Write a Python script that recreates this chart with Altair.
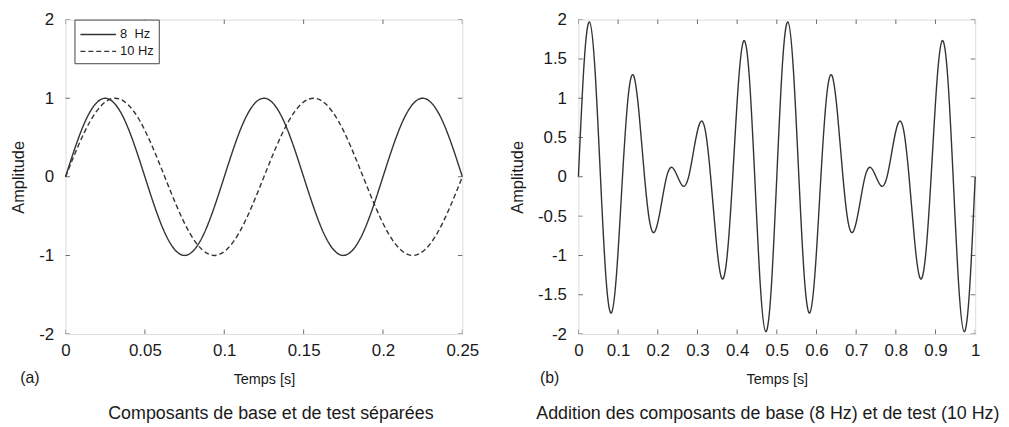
import altair as alt
import pandas as pd

FONT = "Liberation Sans"

# ---- panel (a) data ----
t_solid = [0, 0.0125, 0.025, 0.0375, 0.05, 0.0625, 0.075, 0.0875, 0.1, 0.1125, 0.125,
           0.1375, 0.15, 0.1625, 0.175, 0.1875, 0.2, 0.2125, 0.225, 0.2375, 0.25]
y_solid = [0, 0.71, 1, 0.71, 0, -0.71, -1, -0.71, 0, 0.71, 1,
           0.71, 0, -0.71, -1, -0.71, 0, 0.71, 1, 0.71, 0]
t_dash = [0, 0.0156, 0.03125, 0.0469, 0.0625, 0.0781, 0.09375, 0.1094, 0.125,
          0.1406, 0.15625, 0.1719, 0.1875, 0.2031, 0.21875, 0.2344, 0.25]
y_dash = [0, 0.71, 1, 0.71, 0, -0.71, -1, -0.71, 0,
          0.71, 1, 0.71, 0, -0.71, -1, -0.71, 0]
series_names = ["8 \u00a0Hz", "10 Hz"]

# ---- panel (b) data ----
t_sum = [0, 0.0139, 0.0278, 0.0417, 0.0556, 0.0694, 0.0833, 0.0972, 0.1111, 0.125,
         0.1389, 0.1528, 0.1667, 0.1806, 0.1944, 0.2083, 0.2222, 0.2361, 0.25, 0.2639,
         0.2778, 0.2917, 0.3056, 0.3194, 0.3333, 0.3472, 0.3611, 0.375, 0.3889, 0.4028,
         0.4167, 0.4306, 0.4444, 0.4583, 0.4722, 0.4861, 0.5, 0.5139, 0.5278, 0.5417,
         0.5556, 0.5694, 0.5833, 0.5972, 0.6111, 0.625, 0.6389, 0.6528, 0.6667, 0.6806,
         0.6944, 0.7083, 0.7222, 0.7361, 0.75, 0.7639, 0.7778, 0.7917, 0.8056, 0.8194,
         0.8333, 0.8472, 0.8611, 0.875, 0.8889, 0.9028, 0.9167, 0.9306, 0.9444, 0.9583,
         0.9722, 0.9861, 1.0]
y_sum = [0, 1.41, 1.97, 1.37, 0, -1.28, -1.73, -1.16, 0,
         1.0, 1.29, 0.81, 0, -0.60, -0.68, -0.37, 0,
         0.12, 0, -0.12, 0, 0.37, 0.68, 0.60, 0,
         -0.81, -1.29, -1.0, 0, 1.16, 1.73, 1.28, 0,
         -1.37, -1.97, -1.41, 0, 1.41, 1.97, 1.37, 0,
         -1.28, -1.73, -1.16, 0, 1.0, 1.29, 0.81, 0,
         -0.60, -0.68, -0.37, 0, 0.12, 0, -0.12, 0,
         0.37, 0.68, 0.60, 0, -0.81, -1.29, -1.0, 0,
         1.16, 1.73, 1.28, 0, -1.37, -1.97, -1.41, 0]

# ---- tick values ----
xticks_a = [0, 0.05, 0.1, 0.15, 0.2, 0.25]
yticks_a = [-2, -1, 0, 1, 2]
xticks_b = [0, 0.1, 0.2, 0.3, 0.4, 0.5, 0.6, 0.7, 0.8, 0.9, 1]
yticks_b = [-2, -1.5, -1, -0.5, 0, 0.5, 1, 1.5, 2]

W, H = 400, 317
LINE_COLOR = "#333333"
TEXT_COLOR = "#1a1a1a"

label_expr = "(datum.value < 0 ? '-' : '') + format(abs(datum.value), '~g')"


def x_axis(vals):
    return alt.Axis(values=vals, title="Temps [s]", labelExpr=label_expr, ticks=False,
                    domain=False, grid=False, labelFontSize=17, labelPadding=9,
                    titleFontSize=14.5, titleFontWeight="normal", titlePadding=14,
                    labelColor=TEXT_COLOR, titleColor=TEXT_COLOR, labelFont=FONT,
                    titleFont=FONT, labelFlush=False, labelOverlap=False)


def y_axis(vals):
    return alt.Axis(values=vals, title="Amplitude", labelExpr=label_expr, ticks=False,
                    domain=False, grid=False, labelFontSize=17, labelPadding=12,
                    titleFontSize=16.5, titleFontWeight="normal", titlePadding=12,
                    labelColor=TEXT_COLOR, titleColor=TEXT_COLOR, labelFont=FONT,
                    titleFont=FONT, labelOverlap=False)


def tick_layers(xvals, yvals, xmin, xmax, ymin, ymax, xax, yax):
    dx = pd.DataFrame({"tx": xvals})
    dy = pd.DataFrame({"ty": yvals})
    base_x = alt.Chart(dx).mark_tick(orient="vertical", size=9, thickness=1,
                                     color=LINE_COLOR, clip=True)
    base_y = alt.Chart(dy).mark_tick(orient="horizontal", size=9, thickness=1,
                                     color=LINE_COLOR, clip=True)
    return [
        base_x.encode(x=alt.X("tx:Q", axis=xax), y=alt.YDatum(ymin, axis=yax)),
        base_x.encode(x=alt.X("tx:Q", axis=xax), y=alt.YDatum(ymax, axis=yax)),
        base_y.encode(y=alt.Y("ty:Q", axis=yax), x=alt.XDatum(xmin, axis=xax)),
        base_y.encode(y=alt.Y("ty:Q", axis=yax), x=alt.XDatum(xmax, axis=xax)),
    ]


def panel_label(txt, dx):
    return alt.Chart(pd.DataFrame({"l": [txt]})).mark_text(
        font=FONT, fontSize=16, color=TEXT_COLOR, align="center", baseline="middle"
    ).encode(x=alt.value(dx), y=alt.value(H + 44), text="l:N")


# ---- panel (a) ----
xa, ya = x_axis(xticks_a), y_axis(yticks_a)
df_a = pd.DataFrame({
    "t": t_solid + t_dash,
    "y": y_solid + y_dash,
    "s": [series_names[0]] * len(t_solid) + [series_names[1]] * len(t_dash),
})

lines_a = alt.Chart(df_a).mark_line(
    interpolate="natural", strokeWidth=1.4, color=LINE_COLOR
).encode(
    x=alt.X("t:Q", scale=alt.Scale(domain=[0, 0.25], nice=False), axis=xa),
    y=alt.Y("y:Q", scale=alt.Scale(domain=[-2, 2], nice=False), axis=ya),
    detail="s:N",
    strokeDash=alt.StrokeDash(
        "s:N",
        scale=alt.Scale(domain=series_names, range=[[1, 0], [5, 3]]),
        legend=alt.Legend(
            title=None, orient="none", legendX=9, legendY=0, strokeColor="#444444",
            fillColor="white", padding=5, labelFontSize=13, labelFont=FONT,
            labelColor=TEXT_COLOR, symbolType="M-1,0L3,0", symbolSize=324,
            symbolStrokeWidth=1.4, symbolStrokeColor=LINE_COLOR, rowPadding=0,
            labelOffset=21, cornerRadius=0,
        ),
    ),
)

chart_a = alt.layer(
    lines_a, *tick_layers(xticks_a, yticks_a, 0, 0.25, -2, 2, xa, ya),
    panel_label("(a)", -36)
).properties(
    width=W, height=H,
    title=alt.TitleParams("Composants de base et de test séparées", orient="bottom",
                          fontSize=18, font=FONT, fontWeight="normal",
                          color=TEXT_COLOR, offset=19, dx=7),
)

# ---- panel (b) ----
xb, yb = x_axis(xticks_b), y_axis(yticks_b)
df_b = pd.DataFrame({"t": t_sum, "y": y_sum})
lines_b = alt.Chart(df_b).mark_line(
    interpolate="natural", strokeWidth=1.4, color=LINE_COLOR
).encode(
    x=alt.X("t:Q", scale=alt.Scale(domain=[0, 1], nice=False), axis=xb),
    y=alt.Y("y:Q", scale=alt.Scale(domain=[-2, 2], nice=False), axis=yb),
)

chart_b = alt.layer(
    lines_b, *tick_layers(xticks_b, yticks_b, 0, 1, -2, 2, xb, yb),
    panel_label("(b)", -29)
).properties(
    width=W, height=H,
    title=alt.TitleParams("Addition des composants de base (8 Hz) et de test (10 Hz)",
                          orient="bottom", fontSize=18, font=FONT, fontWeight="normal",
                          color=TEXT_COLOR, offset=19, dx=-9),
)

chart = alt.hconcat(chart_a, chart_b, spacing=29).configure_view(
    stroke=LINE_COLOR, strokeWidth=1
).configure(background="white", padding={"left": 2, "top": 0, "right": 0, "bottom": 0})

chart.save("out.html", embed_options={"renderer": "svg", "actions": False})
